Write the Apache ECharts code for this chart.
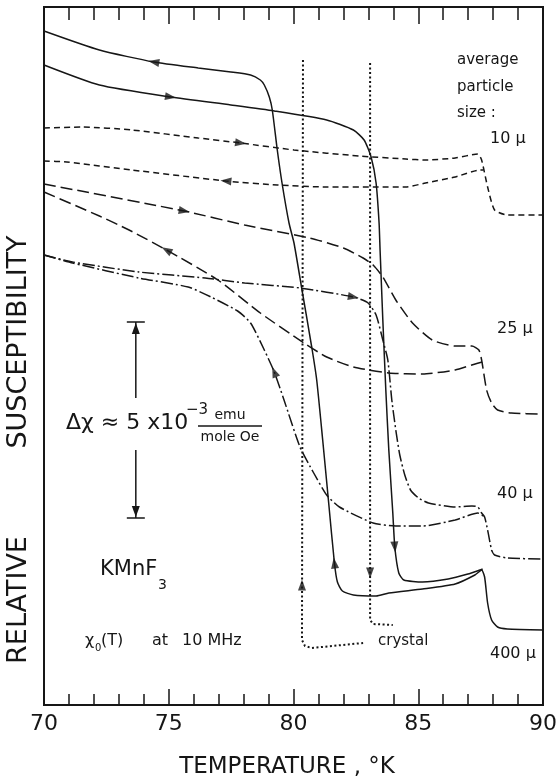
<!DOCTYPE html>
<html>
<head>
<meta charset="utf-8">
<script src="https://cdn.jsdelivr.net/npm/echarts@6/dist/echarts.min.js"></script>
<style>
  html, body { margin: 0; padding: 0; background: #fff; }
  #main { width: 560px; height: 780px; }
</style>
</head>
<body>
<div id="main"></div>
<script>
// temperature (K) vs relative susceptibility (arbitrary units)
var xTicks = [70, 75, 80, 85, 90];

// 400 micron powder, solid line
var cool400 = [[70.00,674],[72.22,655],[74.40,643],[76.18,637],[77.49,633],[78.28,630],[78.67,625],[78.83,620],[79.03,608],[79.15,595],[79.35,555],[79.54,522],[79.82,482],[80.02,462],[80.34,415],[80.73,358],[80.93,325],[81.17,265],[81.41,202],[81.64,142],[81.76,123],[81.96,114],[82.40,110],[83.31,109],[83.82,112],[85.17,116],[86.48,121],[87.27,130],[87.54,135],[87.66,128],[87.78,102],[87.94,85],[88.18,78],[88.57,76],[90.00,75]];
var heat400 = [[70.00,640],[72.22,620],[75.07,608],[77.49,600],[79.23,594],[81.33,585],[82.40,575],[82.83,565],[83.11,548],[83.31,522],[83.43,482],[83.47,455],[83.58,385],[83.70,315],[83.82,255],[83.98,192],[84.06,158],[84.22,132],[84.42,125],[85.17,123],[86.20,126],[86.99,131],[87.47,135],[87.58,136]];

// 10 micron, short dashes
var heat10 = [[70.00,577],[71.54,578],[73.52,575],[76.18,567],[77.88,562],[80.02,555],[82.63,549],[84.50,546],[85.29,545],[86.48,547],[87.39,551],[87.54,545],[87.78,518],[88.06,495],[88.57,490],[90.00,490]];
var cool10 = [[70.00,544],[70.91,543],[73.52,535],[77.29,524],[79.35,520],[81.33,518],[83.31,518],[84.50,518],[85.29,522],[86.48,528],[87.47,535],[87.62,535]];

// 25 micron, long dashes
var heat25 = [[70.00,521],[75.62,494],[78.04,480],[80.65,467],[82.00,457],[82.79,447],[83.19,440],[83.58,428],[84.10,405],[84.77,382],[85.56,365],[86.48,359],[87.15,359],[87.43,355],[87.54,345],[87.74,315],[87.94,302],[88.18,295],[88.73,292],[90.00,291]];
var cool25 = [[70.00,513],[72.22,489],[73.41,475],[74.91,455],[76.97,425],[78.67,392],[80.42,362],[81.33,348],[82.40,338],[83.82,332],[85.17,331],[86.48,335],[87.15,340],[87.56,343]];

// 40 micron, dash-dot
var heat40 = [[70.00,450],[71.15,443],[73.80,433],[76.46,427],[78.04,422],[80.26,417],[82.40,408],[82.99,402],[83.31,390],[83.58,365],[83.78,345],[83.94,305],[84.10,275],[84.26,250],[84.46,230],[84.69,215],[85.01,207],[85.41,202],[86.48,198],[87.15,199],[87.39,198],[87.54,192],[87.66,188],[87.78,175],[87.94,155],[88.06,150],[88.57,147],[90.00,146]];
var cool40 = [[70.00,450],[71.15,442],[73.80,427],[75.78,418],[76.69,408],[77.76,394],[78.28,382],[78.83,355],[79.23,333],[79.62,305],[80.26,258],[80.81,232],[81.33,210],[81.84,198],[83.19,182],[84.10,179],[85.17,179],[86.48,185],[87.39,192],[87.66,188]];

// single crystal, dotted
var crystalLeft = [[80.38,645],[80.34,65],[80.46,59],[80.73,57],[82.79,62]];
var crystalRight = [[83.07,642],[83.07,85],[83.19,81],[83.98,80]];

// direction arrows on the curves: [T, value, heading in degrees]
var arrows = [[74.40,643,80],[81.64,142,7],[75.07,608,-99],[84.06,158,185],
              [77.88,562,-98],[77.29,524,84],[75.62,494,-101],[74.91,455,61],
              [82.40,408,-100],[79.23,333,22],[80.34,120,0],[83.07,132,180]];

// scale bar for delta chi
var scaleBarT = 73.68;
var scaleBarRange = [187, 383];

var ink = '#161616';
var chart = echarts.init(document.getElementById('main'));

function curve(data, dash) {
    return {
        type: 'line',
        data: data,
        showSymbol: false,
        smooth: 0.2,
        silent: true,
        lineStyle: { color: ink, width: 1.5, type: dash }
    };
}

var arrowItems = arrows.map(function (a) {
    return { value: [a[0], a[1]], symbolRotate: a[2] };
});

var axisBase = {
    type: 'value',
    min: 70,
    max: 90,
    interval: 5,
    splitLine: { show: false },
    axisLine: { show: true, lineStyle: { color: ink, width: 2 } },
    minorTick: { show: true, splitNumber: 5, length: 11, lineStyle: { color: ink, width: 1.5 } },
    minorSplitLine: { show: false }
};

var option = {
    animation: false,
    backgroundColor: '#fff',
    grid: { left: 44, right: 11, top: 7, bottom: 75, show: true, borderColor: ink, borderWidth: 2 },
    xAxis: [
        Object.assign({}, axisBase, {
            position: 'bottom',
            axisTick: { inside: true, length: 16, lineStyle: { color: ink, width: 1.5 } },
            axisLabel: { color: ink, fontSize: 22, fontFamily: 'DejaVu Sans', margin: 8 }
        }),
        Object.assign({}, axisBase, {
            position: 'top',
            axisTick: { inside: true, length: 17, lineStyle: { color: ink, width: 1.5 } },
            minorTick: { show: true, splitNumber: 5, length: 13, lineStyle: { color: ink, width: 1.5 } },
            axisLabel: { show: false }
        })
    ],
    yAxis: { type: 'value', min: 0, max: 698, show: false },
    series: [
        curve(cool400, 'solid'),
        curve(heat400, 'solid'),
        curve(heat10, [6, 4]),
        curve(cool10, [6, 4]),
        curve(heat25, [12, 5]),
        curve(cool25, [12, 5]),
        curve(heat40, [12, 3, 2, 3]),
        curve(cool40, [12, 3, 2, 3]),
        {
            type: 'line', data: crystalLeft, showSymbol: false, silent: true,
            lineStyle: { color: ink, width: 2, type: [2, 2.5] }
        },
        {
            type: 'line', data: crystalRight, showSymbol: false, silent: true,
            lineStyle: { color: ink, width: 2, type: [2, 2.5] }
        },
        {
            type: 'scatter', data: arrowItems, symbol: 'triangle', symbolSize: [8, 11],
            silent: true, itemStyle: { color: ink }
        }
    ]
};
chart.setOption(option);

// annotations
var barTop = chart.convertToPixel({ gridIndex: 0 }, [scaleBarT, scaleBarRange[1]]);
var barBot = chart.convertToPixel({ gridIndex: 0 }, [scaleBarT, scaleBarRange[0]]);
var bx = barTop[0];

function txt(text, x, y, size, extra) {
    var s = { text: text, fontSize: size, fontFamily: 'DejaVu Sans', fill: ink, align: 'left', verticalAlign: 'middle' };
    if (extra) { for (var k in extra) s[k] = extra[k]; }
    return { type: 'text', x: x, y: y, style: s, silent: true };
}
function seg(x1, y1, x2, y2) {
    return { type: 'line', shape: { x1: x1, y1: y1, x2: x2, y2: y2 }, style: { stroke: ink, lineWidth: 1.5 }, silent: true };
}
function tri(x, y, up) {
    var d = up ? 1 : -1;
    return { type: 'polygon', shape: { points: [[x, y], [x - 4, y + 11 * d], [x + 4, y + 11 * d]] }, style: { fill: ink }, silent: true };
}
function vtxt(text, x, y, size) {
    return {
        type: 'text', x: x, y: y, rotation: Math.PI / 2, silent: true,
        style: { text: text, fontSize: size, fontFamily: 'DejaVu Sans', fill: ink, align: 'center', verticalAlign: 'middle' }
    };
}

chart.setOption({
    graphic: [
        vtxt('RELATIVE', 19, 600, 27),
        vtxt('SUSCEPTIBILITY', 19, 342, 27),
        txt('TEMPERATURE , °K', 287, 767, 23, { align: 'center' }),
        txt('average', 457, 60, 15),
        txt('particle', 457, 87, 15),
        txt('size :', 457, 113, 15),
        txt('10 μ', 490, 139, 16),
        txt('25 μ', 497, 329, 16),
        txt('40 μ', 497, 494, 16),
        txt('400 μ', 490, 654, 16),
        txt('crystal', 378, 641, 15),
        txt('KMnF', 100, 570, 21),
        txt('3', 158, 585, 14),
        txt('χ', 85, 641, 16),
        txt('0', 95, 648, 10),
        txt('(T)', 101, 641, 16),
        txt('at', 152, 641, 16),
        txt('10 MHz', 182, 641, 16),
        txt('Δχ ≈ 5 x10', 66, 423, 22),
        txt('−3', 186, 410, 15),
        txt('emu', 230, 415, 14, { align: 'center' }),
        seg(198, 426, 262, 426),
        txt('mole Oe', 230, 437, 14, { align: 'center' }),
        seg(bx, barTop[1], bx, 398),
        seg(bx, 450, bx, barBot[1]),
        seg(bx - 9, barTop[1], bx + 9, barTop[1]),
        seg(bx - 9, barBot[1], bx + 9, barBot[1]),
        tri(bx, barTop[1] + 1, true),
        tri(bx, barBot[1] - 1, false)
    ]
});
</script>
</body>
</html>
